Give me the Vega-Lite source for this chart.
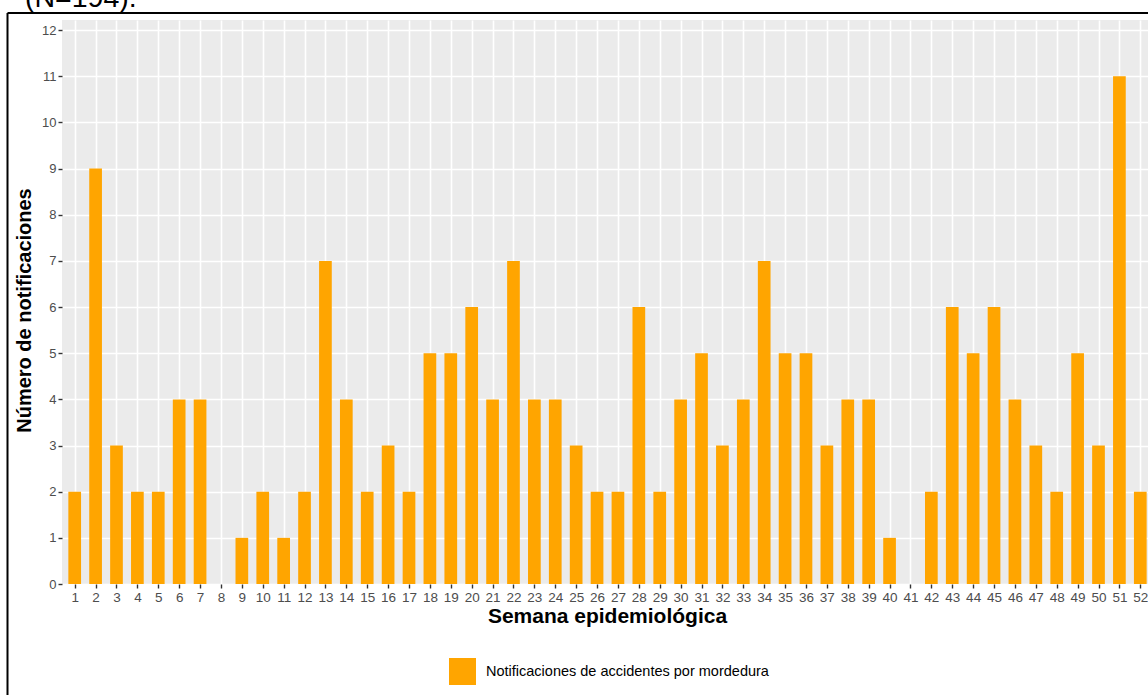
{
  "$schema": "https://vega.github.io/schema/vega-lite/v6.json",
  "autosize": {"type": "none"},
  "width": 1086,
  "height": 564,
  "padding": {"left": 62, "top": 20, "right": 0, "bottom": 111},
  "background": "#FFFFFF",
  "config": {
    "font": "Liberation Sans",
    "view": {"fill": "#EBEBEB", "stroke": null},
    "axis": {
      "domain": false,
      "grid": true,
      "gridColor": "#FFFFFF",
      "gridWidth": 1.6,
      "tickColor": "#333333",
      "tickWidth": 1.4,
      "tickSize": 4,
      "labelColor": "#4D4D4D",
      "labelFont": "Liberation Sans",
      "labelFontSize": 13,
      "labelPadding": 2,
      "labelOverlap": false,
      "labelFlush": false,
      "titleFont": "Liberation Sans",
      "titleFontWeight": "bold",
      "titleColor": "#000000"
    },
    "axisX": {
      "labelFontSize": 13.5,
      "titleFontSize": 21,
      "titleX": 545,
      "titleY": 38,
      "titleBaseline": "alphabetic",
      "titleAnchor": "middle"
    },
    "axisY": {
      "titleFontSize": 20,
      "titleX": -38,
      "titleY": 290,
      "titleBaseline": "middle",
      "titleAnchor": "middle"
    }
  },
  "title": {
    "text": "(N=194).",
    "anchor": "start",
    "frame": "group",
    "orient": "top",
    "fontSize": 28.5,
    "font": "Liberation Sans",
    "fontWeight": "normal",
    "color": "#000000",
    "baseline": "alphabetic",
    "offset": 0,
    "dy": 24,
    "dx": -37
  },
  "layer": [
    {
      "data": {"values": [
        {"semana": 1, "n": 2}, {"semana": 2, "n": 9}, {"semana": 3, "n": 3}, {"semana": 4, "n": 2},
        {"semana": 5, "n": 2}, {"semana": 6, "n": 4}, {"semana": 7, "n": 4}, {"semana": 8, "n": 0},
        {"semana": 9, "n": 1}, {"semana": 10, "n": 2}, {"semana": 11, "n": 1}, {"semana": 12, "n": 2},
        {"semana": 13, "n": 7}, {"semana": 14, "n": 4}, {"semana": 15, "n": 2}, {"semana": 16, "n": 3},
        {"semana": 17, "n": 2}, {"semana": 18, "n": 5}, {"semana": 19, "n": 5}, {"semana": 20, "n": 6},
        {"semana": 21, "n": 4}, {"semana": 22, "n": 7}, {"semana": 23, "n": 4}, {"semana": 24, "n": 4},
        {"semana": 25, "n": 3}, {"semana": 26, "n": 2}, {"semana": 27, "n": 2}, {"semana": 28, "n": 6},
        {"semana": 29, "n": 2}, {"semana": 30, "n": 4}, {"semana": 31, "n": 5}, {"semana": 32, "n": 3},
        {"semana": 33, "n": 4}, {"semana": 34, "n": 7}, {"semana": 35, "n": 5}, {"semana": 36, "n": 5},
        {"semana": 37, "n": 3}, {"semana": 38, "n": 4}, {"semana": 39, "n": 4}, {"semana": 40, "n": 1},
        {"semana": 41, "n": 0}, {"semana": 42, "n": 2}, {"semana": 43, "n": 6}, {"semana": 44, "n": 5},
        {"semana": 45, "n": 6}, {"semana": 46, "n": 4}, {"semana": 47, "n": 3}, {"semana": 48, "n": 2},
        {"semana": 49, "n": 5}, {"semana": 50, "n": 3}, {"semana": 51, "n": 11}, {"semana": 52, "n": 2}
      ]},
      "mark": {"type": "bar", "size": 12.7},
      "encoding": {
        "x": {
          "field": "semana",
          "type": "quantitative",
          "scale": {"domain": [0.3922, 52.369], "nice": false, "zero": false, "padding": 0},
          "axis": {
            "title": "Semana epidemiológica",
            "values": [1,2,3,4,5,6,7,8,9,10,11,12,13,14,15,16,17,18,19,20,21,22,23,24,25,26,27,28,29,30,31,32,33,34,35,36,37,38,39,40,41,42,43,44,45,46,47,48,49,50,51,52],
            "format": "d",
            "labelOverlap": false
          }
        },
        "y": {
          "field": "n",
          "type": "quantitative",
          "scale": {"domain": [0, 12.22], "nice": false, "padding": 0},
          "axis": {
            "title": "Número de notificaciones",
            "values": [0,1,2,3,4,5,6,7,8,9,10,11,12],
            "format": "d",
            "labelOverlap": false
          }
        },
        "color": {
          "datum": "Notificaciones de accidentes por mordedura",
          "type": "nominal",
          "scale": {"range": ["#FFA500"]},
          "legend": {
            "title": null,
            "orient": "none",
            "legendX": 387,
            "legendY": 638,
            "padding": 0,
            "symbolType": "square",
            "symbolSize": 729,
            "symbolStrokeWidth": 0,
            "symbolOpacity": 1,
            "labelFont": "Liberation Sans",
            "labelFontSize": 14.5,
            "labelColor": "#000000",
            "labelOffset": 10,
            "labelLimit": 600
          }
        }
      }
    },
    {
      "data": {"values": [{}]},
      "mark": {"type": "rule", "color": "#000000", "strokeWidth": 2},
      "encoding": {
        "x": {"datum": -2.2162, "type": "quantitative", "axis": {
          "title": "Semana epidemiológica",
          "values": [1,2,3,4,5,6,7,8,9,10,11,12,13,14,15,16,17,18,19,20,21,22,23,24,25,26,27,28,29,30,31,32,33,34,35,36,37,38,39,40,41,42,43,44,45,46,47,48,49,50,51,52],
          "format": "d",
          "labelOverlap": false
        }},
        "y": {"datum": 12.372, "type": "quantitative", "axis": {
          "title": "Número de notificaciones",
          "values": [0,1,2,3,4,5,6,7,8,9,10,11,12],
          "format": "d",
          "labelOverlap": false
        }},
        "y2": {"datum": -3}
      }
    },
    {
      "data": {"values": [{}]},
      "mark": {"type": "rule", "color": "#000000", "strokeWidth": 2},
      "encoding": {
        "x": {"datum": -2.2162, "type": "quantitative", "axis": {
          "title": "Semana epidemiológica",
          "values": [1,2,3,4,5,6,7,8,9,10,11,12,13,14,15,16,17,18,19,20,21,22,23,24,25,26,27,28,29,30,31,32,33,34,35,36,37,38,39,40,41,42,43,44,45,46,47,48,49,50,51,52],
          "format": "d",
          "labelOverlap": false
        }},
        "x2": {"datum": 54},
        "y": {"datum": 12.372, "type": "quantitative", "axis": {
          "title": "Número de notificaciones",
          "values": [0,1,2,3,4,5,6,7,8,9,10,11,12],
          "format": "d",
          "labelOverlap": false
        }}
      }
    }
  ]
}
